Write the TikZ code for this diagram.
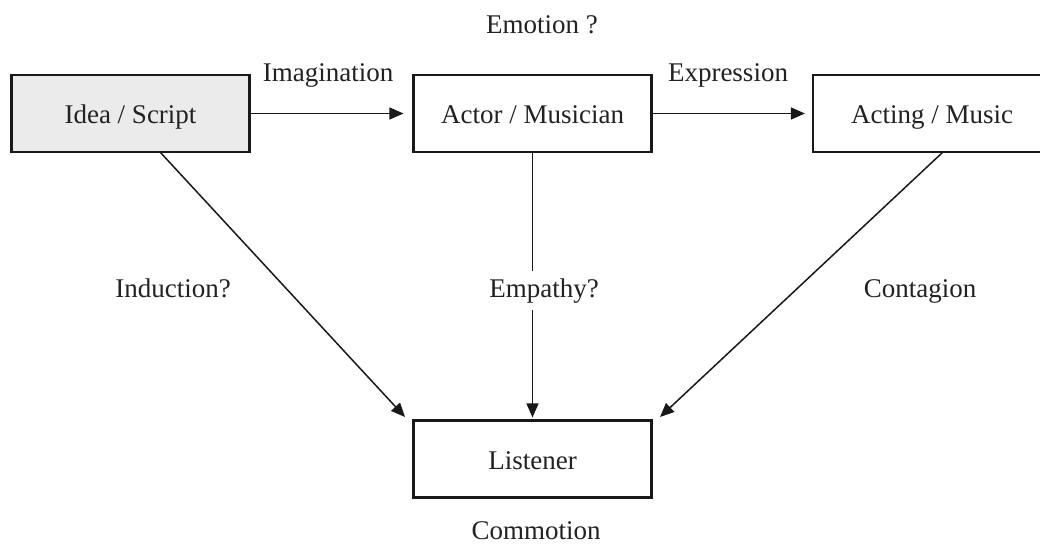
\documentclass[tikz,border=0pt]{standalone}
\usepackage{fontspec}
\setmainfont{Liberation Serif}
\usetikzlibrary{arrows.meta,calc}
\definecolor{txt}{HTML}{222222}
\definecolor{boxfill}{HTML}{EBEBEB}
\tikzset{
  box/.style={draw=black!90, line width=2.2pt, minimum width=238pt, minimum height=77pt, inner sep=0pt, text height=20.8pt, text depth=0pt, text=txt, font=\fontsize{27}{32}\selectfont},
  lbl/.style={text=txt, font=\fontsize{27}{32}\selectfont, inner sep=0pt, anchor=base},
  conn/.style={draw=black!90, line width=1.5pt, -{Triangle[length=14pt,width=12pt]}}
}
\begin{document}
\begin{tikzpicture}[x=1pt,y=-1pt]
\clip (0,0) rectangle (1040,545);
\fill[white] (0,0) rectangle (1040,545);
\node[box, fill=boxfill] (idea) at (130.5,113.5) {Idea / Script};
\node[box] (actor) at (532.5,113.5) {Actor / Musician};
\node[box] (acting) at (932,113.5) {Acting / Music};
\node[box] (listener) at (532.5,459) {Listener};
\node[lbl] (emotion) at (542,34) {Emotion ?};
\node[lbl] (imag) at (328,82) {Imagination};
\node[lbl] (expr) at (728,82) {Expression};
\node[lbl] (induc) at (173,297) {Induction?};
\node[lbl] (contag) at (920,297) {Contagion};
\node[lbl] (commo) at (536,539) {Commotion};
\coordinate (s1) at (160,152);
\coordinate (e1) at (405,417);
\coordinate (s3) at (943,152);
\coordinate (e3) at (660,417);
\draw[conn, shorten >=9pt] (idea.east) -- (actor.west);
\draw[conn, shorten >=7pt] (actor.east) -- (acting.west);
\draw[conn, shorten >=2pt] (actor.south) -- (listener.north);
\node[lbl, fill=white, inner ysep=7pt, inner xsep=2pt] (empathy) at (544,297) {Empathy?};
\draw[conn] (s1) -- (e1);
\draw[conn] (s3) -- (e3);
\end{tikzpicture}
\end{document}
